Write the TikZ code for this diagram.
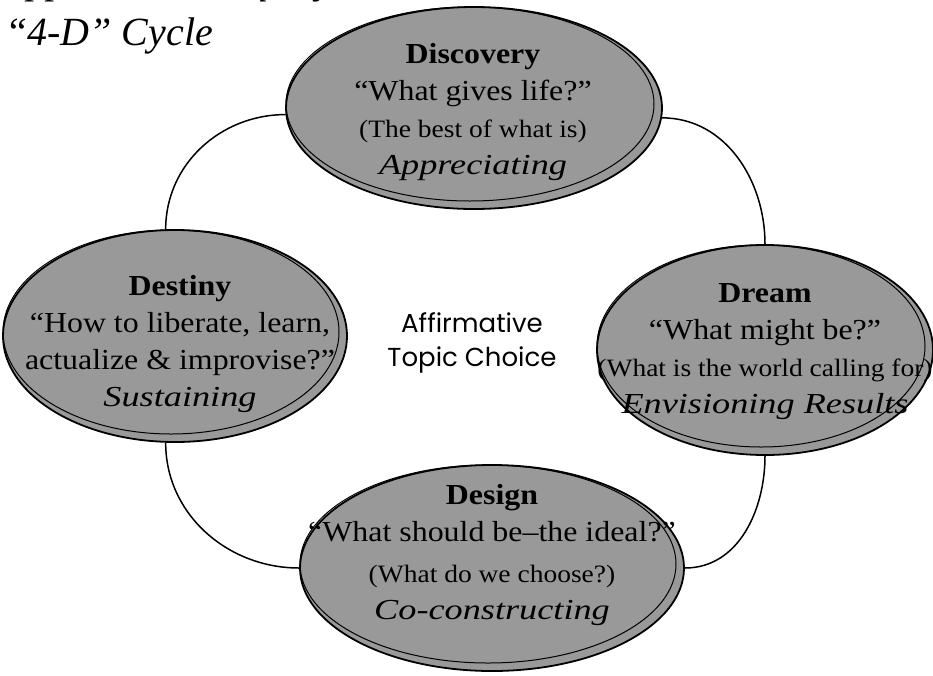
\documentclass[tikz,border=0pt]{standalone}
\usepackage{fontspec}
\setmainfont{Liberation Serif}
\newfontfamily\phrm[FakeStretch=1.1]{Liberation Serif}
\newfontfamily\phit[FakeStretch=1.25]{Liberation Serif}
\newfontfamily\gothic{Poppins}
\usetikzlibrary{shapes.geometric}
\definecolor{phasefill}{gray}{0.6}
\tikzset{
  phase/.style={ellipse, draw=black, line width=1.8pt, fill=phasefill, inner sep=0pt},
  bevel/.style={draw=black, line width=1pt},
  ptext/.style={align=center, inner sep=0pt, font=\phrm\fontsize{29}{37}\selectfont},
  link/.style={draw=black, line width=1.5pt},
  titletext/.style={anchor=base west, inner sep=0pt, font=\fontsize{40}{44}\selectfont\itshape},
}
\newcommand{\parline}[1]{{\fontsize{25}{37}\selectfont #1}}
\newcommand{\itline}[1]{{\phit\itshape #1}}
\begin{document}
\begin{tikzpicture}[x=1pt,y=-1pt]
\useasboundingbox (0,0) rectangle (933,675);
\clip (0,0) rectangle (933,675);
% title (first line is cut by the top edge, as in the reference)
\node[titletext] (title1) at (3,-7) {Appreciative Inquiry};
\node[titletext] (title2) at (5,45) {“4-D” Cycle};
% ellipses
\node[phase, minimum width=376pt, minimum height=202pt] (disc) at (474,108) {};
\draw[bevel] ([shift={(-4,-4)}]disc.center) ellipse [x radius=184pt, y radius=97pt];
\node[phase, minimum width=336pt, minimum height=210pt] (dream) at (765,350) {};
\draw[bevel] ([shift={(-4,-4)}]dream.center) ellipse [x radius=164pt, y radius=101pt];
\node[phase, minimum width=344pt, minimum height=212pt] (dest) at (175,336) {};
\draw[bevel] ([shift={(-4,-4)}]dest.center) ellipse [x radius=168pt, y radius=102pt];
\node[phase, minimum width=384pt, minimum height=206pt] (design) at (492,568) {};
\draw[bevel] ([shift={(-4,-4)}]design.center) ellipse [x radius=188pt, y radius=99pt];
% texts
\node[ptext] (disct) at (473,112) {{\bfseries Discovery}\\“What gives life?”\\\parline{(The best of what is)}\\\itline{Appreciating}};
\node[ptext] (dreamt) at (765,352) {{\bfseries Dream}\\“What might be?”\\\parline{(What is the world calling for)}\\\itline{Envisioning Results}};
\node[ptext] (destt) at (180,344) {{\bfseries Destiny}\\“How to liberate, learn,\\actualize \& improvise?”\\\itline{Sustaining}};
\node[ptext] (designt) at (492,555) {{\bfseries Design}\\“What should be–the ideal?”\\[4pt]\parline{(What do we choose?)}\\\itline{Co-constructing}};
\node[align=center, inner sep=0pt, font=\gothic\fontsize{26}{34}\selectfont] (core) at (472,343) {Affirmative\\Topic Choice};
% connectors
\draw[link] (disc.182) to[out=180,in=90] (dest.95);
\draw[link] (disc.-3) to[out=0,in=90] (dream.north);
\draw[link] (dest.265) to[out=-90,in=180] (design.west);
\draw[link] (dream.south) to[out=-90,in=0] (design.east);
\end{tikzpicture}
\end{document}
